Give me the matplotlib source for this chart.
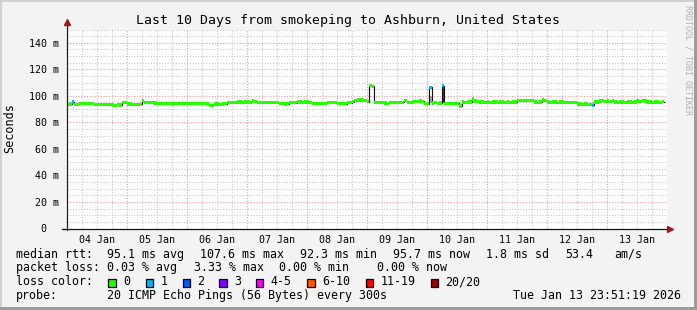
import numpy as np
import matplotlib
matplotlib.use('Agg')
import matplotlib.pyplot as plt
from matplotlib.patches import Rectangle

nan = np.nan

# hourly median rtt (ms), one row per day, Jan 4 00:00 .. Jan 13 23:00
jan04 = [93.7, 93.8, 95.3, 93.7, 93.6, 94.3, 94.4, 94.2, 94.3, 94.5, 94.2, 93.4,
         93.5, 93.3, 93.4, 93.6, 93.4, 93.2, 93.1, 93.0, 93.2, 93.1, 94.8, 94.7]
jan05 = [93.8, 93.9, 93.4, 93.5, 93.3, 93.5, 96.3, 94.8, 94.9, 94.7, 94.8, 94.6,
         94.3, 94.4, 94.2, 94.3, 94.0, 94.1, 93.9, 94.0, 94.1, 94.3, 94.2, 94.4]
jan06 = [94.3, 94.2, 94.4, 94.3, 94.3, 94.2, 94.4, 94.3, 93.9, 92.8, 92.9, 93.8,
         93.9, 93.7, 93.8, 94.0, 94.8, 94.9, 94.7, 95.0, 95.3, 95.4, 95.2, 95.3]
jan07 = [95.3, 95.2, 96.1, 96.0, 95.0, 95.1, 94.9, 95.0, 95.1, 95.0, 94.9, 95.0,
         95.1, 94.0, 94.1, 93.9, 94.0, 94.8, 94.7, 94.9, 95.8, 95.3, 95.2, 95.4]
jan08 = [95.3, 95.2, 94.3, 94.4, 94.2, 94.3, 94.5, 94.3, 94.8, 94.9, 94.7, 94.8,
         94.1, 94.2, 94.0, 94.1, 94.8, 94.7, 95.6, 96.3, 96.9, 96.8, 96.9, 96.6]
jan09 = [95.6, 107.6, 107.2, 95.1, 95.0, 95.2, 95.1, 94.6, 94.5, 94.7, 94.9, 95.0,
         94.8, 94.9, 95.0, 96.4, 95.2, 95.1, 95.3, 96.0, 95.9, 96.1, 96.0, 94.1]
jan10 = [94.1, 106.4, 94.6, 94.7, 94.5, 94.6, 107.6, 94.3, 94.4, 94.2, 94.3, 94.4,
         94.3, 92.3, 95.3, 95.2, 95.4, 95.3, 97.6, 96.1, 96.0, 95.3, 95.4, 95.2]
jan11 = [95.3, 95.2, 95.4, 95.3, 95.1, 95.3, 95.4, 95.2, 95.3, 95.1, 95.3, 95.4,
         96.3, 96.2, 96.4, 96.3, 96.2, 96.3, 96.4, 95.3, 95.2, 95.4, 96.8, 96.7]
jan12 = [95.3, 95.2, 95.4, 95.3, 95.2, 95.3, 95.4, 95.2, 95.0, 95.1, 94.9, 95.0,
         93.8, 93.9, 93.7, 93.8, 93.5, 93.4, 93.0, 95.3, 95.4, 96.1, 96.2, 96.0]
jan13 = [96.1, 96.0, 96.2, 95.3, 95.2, 95.4, 95.3, 95.1, 95.3, 95.4, 95.2, 95.3,
         96.1, 96.0, 96.2, 96.1, 95.3, 95.4, 95.2, 95.3, 95.4, 95.2, 95.7, nan]

median = np.array(jan04 + jan05 + jan06 + jan07 + jan08 + jan09 + jan10 + jan11 + jan12 + jan13)

# hours that lost pings, and how many
loss_hours = [2, 145, 150, 210]
loss_pings = [1, 1, 1, 1]

# smoke (spread of the pings) where it sticks out of the median band
smoke_hours = [145, 150, 210, 230]
smoke_lo = [94.3, 94.5, 92.8, 95.8]
smoke_hi = [99.5, 107.0, 95.5, 96.9]
smoke_shade = ['#a8a8a8', '#383838', '#b8b8b8', '#d4d4d4']

day_labels = ['04 Jan', '05 Jan', '06 Jan', '07 Jan', '08 Jan',
              '09 Jan', '10 Jan', '11 Jan', '12 Jan', '13 Jan']
y_ticks = [0, 20, 40, 60, 80, 100, 120, 140]
y_labels = ['0  ', '20 m', '40 m', '60 m', '80 m', '100 m', '120 m', '140 m']

loss_names = ['0', '1', '2', '3', '4-5', '6-10', '11-19', '20/20']
loss_colors = ['#26ff00', '#00b8ff', '#0059ff', '#7e00ff', '#ff00ff', '#ff5500', '#ff0000', '#a10000']

stats = [('median rtt:', [(107.3, '95.1 ms avg'), (200, '107.6 ms max'), (299.5, '92.3 ms min'),
                          (393.3, '95.7 ms now'), (485.7, '1.8 ms sd'), (565, '53.4'), (614, 'am/s')]),
         ('packet loss:', [(107.3, '0.03 % avg'), (194, '3.33 % max'), (279, '0.00 % min'),
                           (376.7, '0.00 % now')]),
         ('loss color:', []),
         ('probe:', [(107.3, '20 ICMP Echo Pings (56 Bytes) every 300s'),
                     (513.3, 'Tue Jan 13 23:51:19 2026')])]

W, H = 697, 310
mono = 'DejaVu Sans Mono'
plt.rcParams['font.family'] = mono

fig = plt.figure(figsize=(W / 100, H / 100), dpi=100, facecolor='#f3f3f3')
ax = fig.add_axes([66.7 / W, 81.5 / H, 600 / W, 199 / H])
ax.set_facecolor('white')


def fx(x):
    return x / W


def fy(y):
    return 1 - y / H


# frame like rrdtool's shade
fig.add_artist(Rectangle((0, fy(2)), 1, 2 / H, transform=fig.transFigure, color='#d0d0d0', lw=0))
fig.add_artist(Rectangle((0, 0), 2 / W, 1, transform=fig.transFigure, color='#d0d0d0', lw=0))
fig.add_artist(Rectangle((0, 0), 1, 3 / H, transform=fig.transFigure, color='#9c9c9c', lw=0))
fig.add_artist(Rectangle((1 - 3 / W, 0), 3 / W, 1, transform=fig.transFigure, color='#9c9c9c', lw=0))

n = len(median)
ax.set_xlim(0, n)
ax.set_ylim(0, 150)

# grid
dots = (0, (1, 1.5))
for v in range(0, 151, 5):
    if v % 20 == 0:
        continue
    ax.axhline(v, color='#c8c8c8', lw=0.8, ls=dots, zorder=0)
for v in y_ticks[1:]:
    ax.axhline(v, color='#f39a9a', lw=0.8, ls=dots, zorder=1)
for h in range(6, n + 1, 6):
    if h % 24 == 0:
        ax.axvline(h, color='#f39a9a', lw=0.8, ls=dots, zorder=1)
    else:
        ax.axvline(h, color='#c8c8c8', lw=0.8, ls=dots, zorder=0)

# smoke
ax.bar(smoke_hours, np.array(smoke_hi) - np.array(smoke_lo), bottom=smoke_lo, width=1,
       align='edge', color=smoke_shade, lw=0, zorder=2)

# black median line
hours = np.arange(n + 1)
ax.step(hours, np.append(median, median[-1]), where='post', color='#101010', lw=0.8, zorder=3)

# loss coloured band around median
loss = np.zeros(n, dtype=int)
loss[loss_hours] = loss_pings
bins = [0, 1, 2, 3, 5, 10, 19, 20]
idx = np.searchsorted(bins, loss)
ok = ~np.isnan(median)
sw = 1.2
ax.bar(np.arange(n)[ok], 2 * sw, bottom=median[ok] - sw, width=1, align='edge',
       color=[loss_colors[i] for i in idx[ok]], lw=0, zorder=4)

# axes lines and arrows
for s in ax.spines.values():
    s.set_visible(False)
ax.plot([0, 0], [-0.01, 1.03], transform=ax.transAxes, color='#301818', lw=0.9, clip_on=False, zorder=6)
ax.plot([-0.008, 1.002], [0, 0], transform=ax.transAxes, color='#101010', lw=0.9, clip_on=False, zorder=6)
ax.plot([0], [1.038], marker='^', ms=5, color='#9a1a1a', transform=ax.transAxes, clip_on=False, zorder=7)
ax.plot([1.006], [0], marker='>', ms=5, color='#9a1a1a', transform=ax.transAxes, clip_on=False, zorder=7)

ax.set_xticks(np.arange(12, n, 24))
ax.set_xticklabels(day_labels, fontsize=7.2)
ax.set_yticks(y_ticks)
ax.set_yticklabels(y_labels, fontsize=7.2)
ax.tick_params(axis='x', length=0, pad=4.5)
ax.tick_params(axis='y', length=0, pad=5.2)

fig.text(fx(348), fy(24), 'Last 10 Days from smokeping to Ashburn, United States',
         ha='center', va='baseline', fontsize=9.5)
fig.text(fx(10), fy(128), 'Seconds', rotation=90, ha='center', va='center', fontsize=8.5)
fig.text(fx(688), fy(5), 'RRDTOOL / TOBI OETIKER', rotation=270, ha='center', va='top',
         fontsize=6, color='#b0b0b0')

# legend rows
for r, (head, parts) in enumerate(stats):
    yb = 257.7 + 13.7 * r
    fig.text(fx(16), fy(yb), head, va='baseline', fontsize=8.4)
    for x, t in parts:
        fig.text(fx(x), fy(yb), t, va='baseline', fontsize=8.4)

box_x = [108.3, 145.7, 182.7, 219.3, 256, 307.3, 365.7, 430.7]
for bx, name, col in zip(box_x, loss_names, loss_colors):
    fig.add_artist(Rectangle((fx(bx), fy(286.5)), 7.3 / W, 7.3 / H, transform=fig.transFigure,
                             facecolor=col, edgecolor='black', lw=0.9))
    fig.text(fx(bx + 14.7), fy(257.7 + 13.7 * 2), name, va='baseline', fontsize=8.4)

fig.savefig('out.png', dpi=100, facecolor=fig.get_facecolor())
